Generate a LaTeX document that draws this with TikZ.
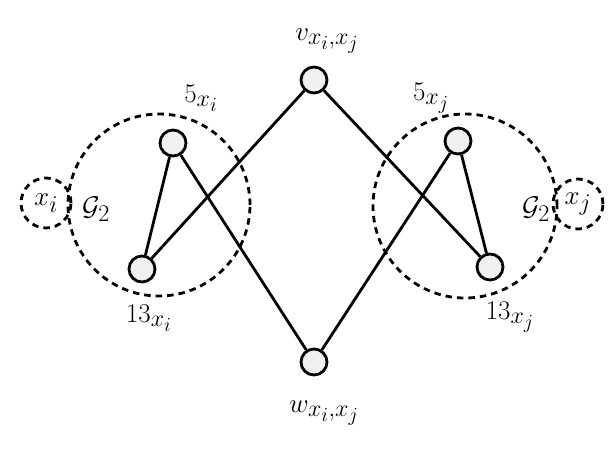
\RequirePackage{fix-cm}
\documentclass[tikz,border=0pt]{standalone}
\DeclareMathSizes{27}{27}{24}{20}
\begin{document}
\begin{tikzpicture}[x=1pt,y=-1pt,
  vert/.style={circle,draw,line width=2.8pt,fill=black!6,minimum size=26pt,inner sep=0pt},
  grp/.style={circle,draw,line width=2.8pt,dash pattern=on 6.5pt off 5pt,inner sep=0pt},
  edge/.style={line width=2.8pt},
  lab/.style={font=\fontsize{27}{32}\selectfont,inner sep=0pt}]
\useasboundingbox (0,0) rectangle (616,448);
% dashed group circles
\node[grp,minimum size=182pt] (gl) at (159,205) {};
\node[grp,minimum size=50pt] (xi) at (46,203) {};
\node[grp,minimum size=184pt] (gr) at (465,206) {};
\node[grp,minimum size=50pt] (xj) at (578,204) {};
\node[lab] (lxi) at (xi) {$x_i$};
\node[lab] (lxj) at (xj) {$x_j$};
% vertices
\node[vert] (v) at (314,80) {};
\node[vert] (w) at (314,362) {};
\node[vert] (a5) at (173,143) {};
\node[vert] (a13) at (142,269) {};
\node[vert] (b5) at (458,141) {};
\node[vert] (b13) at (490,267) {};
% edges
\draw[edge] (a5) -- (a13);
\draw[edge] (b5) -- (b13);
\draw[edge] (v) -- (a13);
\draw[edge] (v) -- (b13);
\draw[edge] (a5) -- (w);
\draw[edge] (b5) -- (w);
% labels
\node[lab] (lv) at (327,41) {$v_{x_i,x_j}$};
\node[lab] (lw) at (324,413) {$w_{x_i,x_j}$};
\node[lab] (la5) at (201,98) {$5_{x_i}$};
\node[lab] (lb5) at (431,98) {$5_{x_j}$};
\node[lab] (la13) at (149,318) {$13_{x_i}$};
\node[lab] (lb13) at (510,317) {$13_{x_j}$};
\node[lab] (ga) at (96,209) {$\mathcal{G}_2$};
\node[lab] (gb) at (536,209) {$\mathcal{G}_2$};
\end{tikzpicture}
\end{document}
